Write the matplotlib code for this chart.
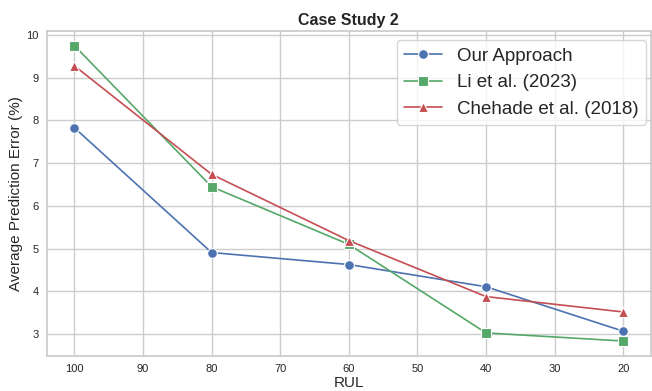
import numpy as np
import matplotlib
matplotlib.use("Agg")
import matplotlib.pyplot as plt
import seaborn as sns

sns.set_theme(style="whitegrid")
plt.rcParams['font.family'] = ['Liberation Sans', 'DejaVu Sans']

rul = [100, 80, 60, 40, 20]
ours = [7.83, 4.91, 4.63, 4.11, 3.07]
li = [9.75, 6.45, 5.10, 3.03, 2.84]
chehade = [9.28, 6.74, 5.19, 3.88, 3.52]

names = ["Our Approach", "Li et al. (2023)", "Chehade et al. (2018)"]
colors = ["#4C72B0", "#55A868", "#C44E52"]
markers = ["o", "s", "^"]

fig, ax = plt.subplots(figsize=(6.52, 3.91), dpi=100)

for vals, name, c, m in zip([ours, li, chehade], names, colors, markers):
    ax.plot(rul, vals, color=c, marker=m, markersize=7, linewidth=1.2,
            markeredgecolor="white", markeredgewidth=0.8, label=name)

ax.invert_xaxis()
ax.set_xticks([100, 90, 80, 70, 60, 50, 40, 30, 20])
ax.tick_params(labelsize=8, pad=0)
ax.set_xlabel("RUL", fontsize=11, labelpad=1)
ax.set_ylabel("Average Prediction Error (%)", fontsize=11, labelpad=2)
ax.set_title("Case Study 2", fontsize=11.5, fontweight="bold", pad=4)
ax.legend(fontsize=13.5, loc="upper right", bbox_to_anchor=(0.992, 0.972),
          borderaxespad=0)

fig.subplots_adjust(left=0.072, right=0.998, top=0.921, bottom=0.09)
fig.savefig("out.png", dpi=100)
